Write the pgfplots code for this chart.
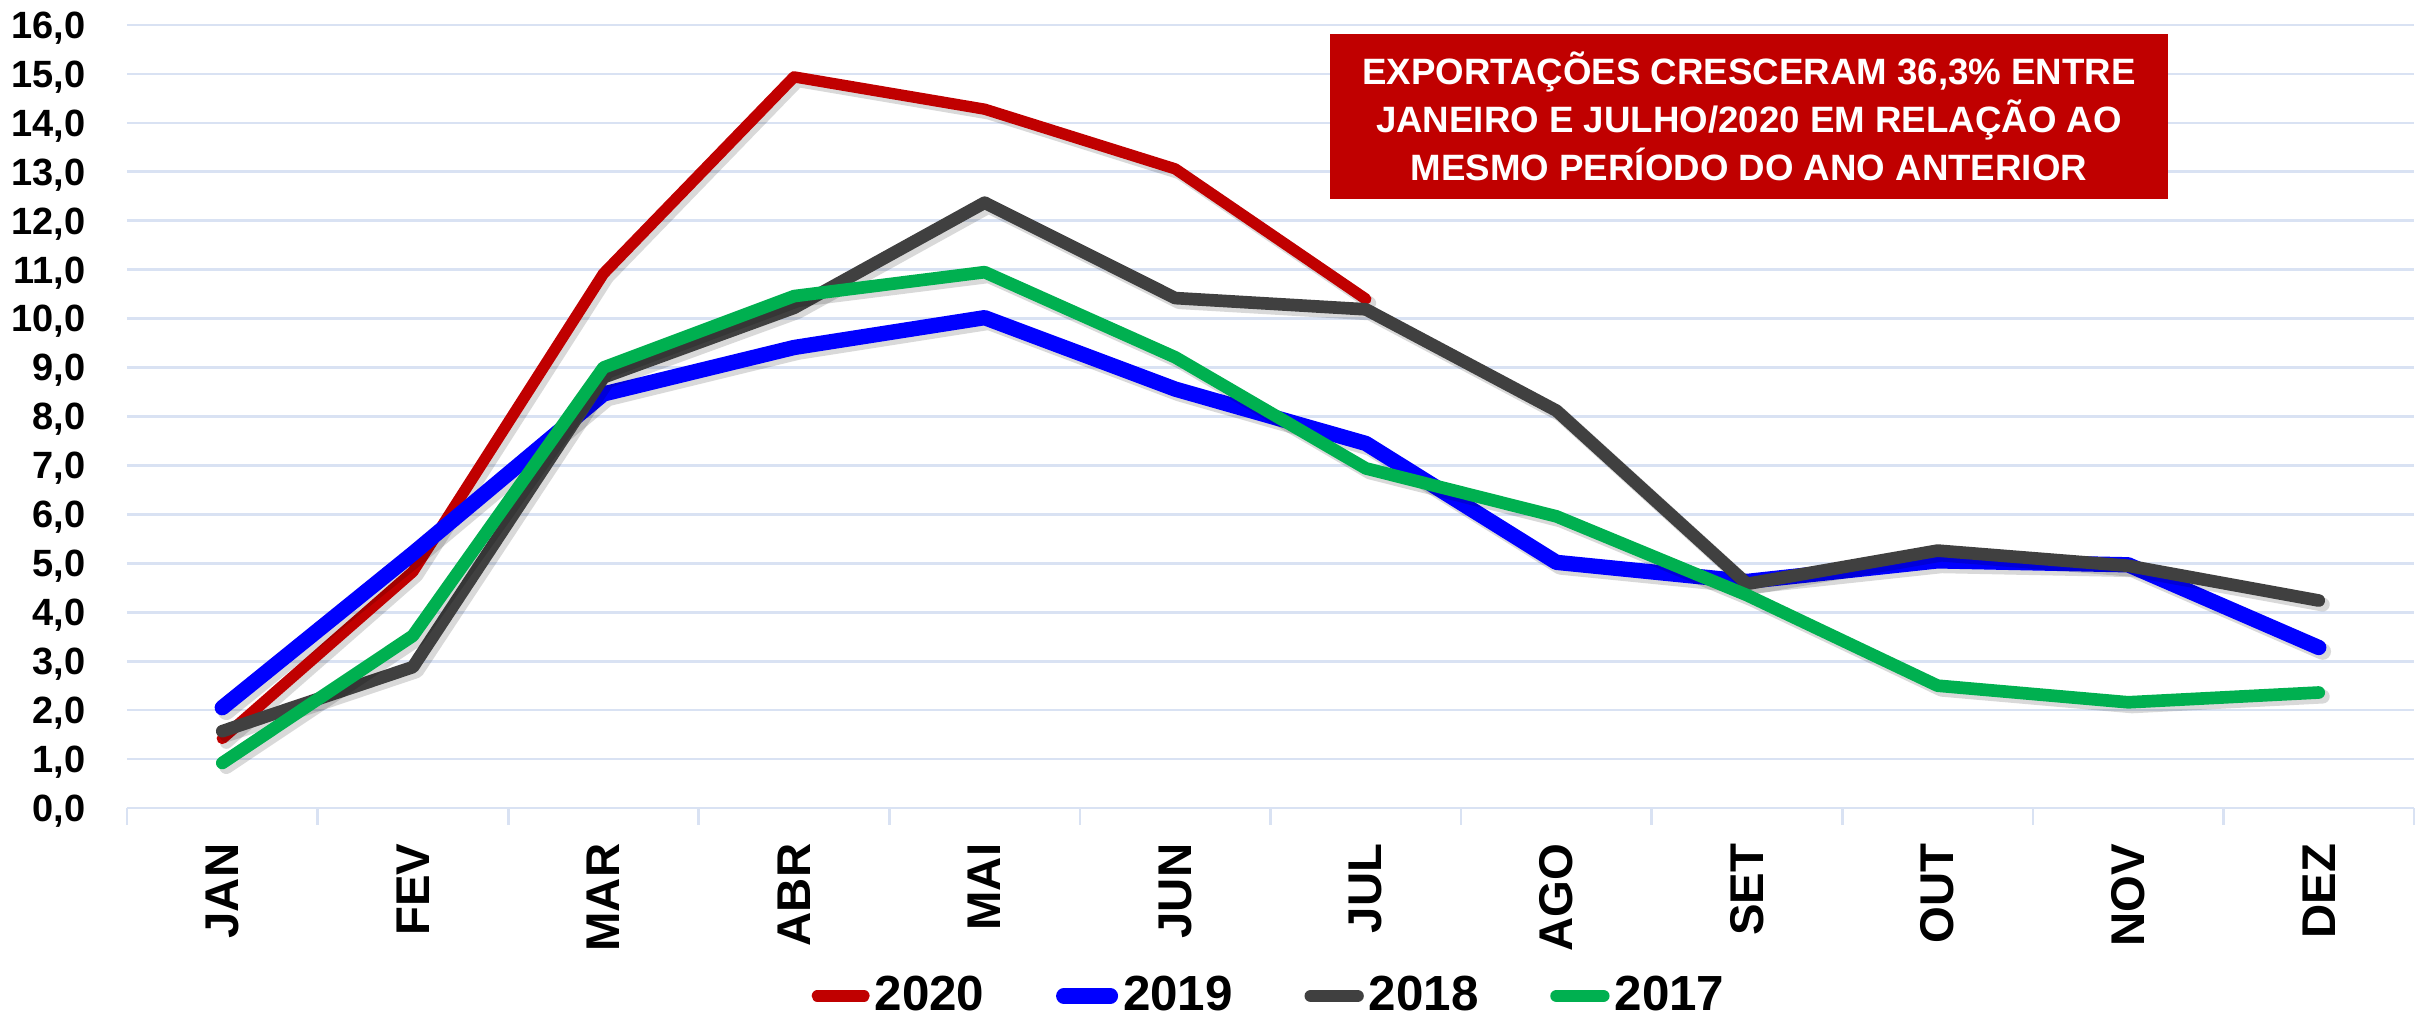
\documentclass[border=0pt]{standalone}
\usepackage{fontspec}
\setmainfont{Liberation Sans}
\usepackage{pgfplots}
\pgfplotsset{compat=1.18}
\definecolor{c2020}{HTML}{C00000}
\definecolor{c2019}{HTML}{0000FF}
\definecolor{c2018}{HTML}{404040}
\definecolor{c2017}{HTML}{00B050}
\definecolor{gridc}{HTML}{D9E2F3}
\begin{document}
\begin{tikzpicture}
\begin{axis}[
  scale only axis, width=686.1pt, height=234.9pt,
  xmin=0.5, xmax=12.5, ymin=0, ymax=16,
  axis x line*=bottom, axis y line*=left,
  y axis line style={draw=none},
  x axis line style={-, draw=gridc, line width=0.8pt},
  xtick={1,...,12},
  xticklabels={JAN,FEV,MAR,ABR,MAI,JUN,JUL,AGO,SET,OUT,NOV,DEZ},
  minor xtick={0.5,1.5,...,12.5},
  ytick={0,1,...,16},
  major tick length=0pt, minor tick length=5.1pt, tick align=outside,
  minor tick style={draw=gridc, line width=0.8pt},
  ymajorgrids, major grid style={draw=gridc, line width=0.8pt},
  xticklabel style={rotate=90, anchor=east, inner sep=0pt, font=\fontsize{14.2}{14.2}\selectfont\bfseries},
  xticklabel shift=10.5pt,
  yticklabel style={anchor=base east, inner sep=0pt, xshift=-12.3pt, yshift=-4pt, font=\fontsize{11.4}{11.4}\selectfont\bfseries},
  /pgf/number format/.cd, fixed, fixed zerofill, precision=1, use comma, assume math mode=true,
  /pgfplots/.cd,
  legend columns=4,
  legend style={at={(0.5,-0.240)}, anchor=center, draw=none, fill=none, inner sep=0pt,
    font=\fontsize{14.8}{14.8}\selectfont\bfseries,
    nodes={inner sep=1.5pt},
    /tikz/every even column/.append style={column sep=20pt}},
  legend image code/.code={\draw[#1, line cap=round] (0pt,0pt) -- (14pt,0pt);},
  every axis plot/.append style={line cap=round, line join=round},
]
% 2020
\addplot[draw=black, opacity=0.15, line width=3.8pt, xshift=1.2pt, yshift=-1.2pt, forget plot]
  coordinates {(1,1.42) (2,4.83) (3,10.92) (4,14.94) (5,14.28) (6,13.06) (7,10.40)};
\addplot[c2020, line width=3.4pt]
  coordinates {(1,1.42) (2,4.83) (3,10.92) (4,14.94) (5,14.28) (6,13.06) (7,10.40)};
\addlegendentry{2020}
% 2019
\addplot[draw=black, opacity=0.15, line width=5pt, xshift=1.2pt, yshift=-1.2pt, forget plot]
  coordinates {(1,2.05) (2,5.20) (3,8.46) (4,9.41) (5,10.02) (6,8.56) (7,7.45) (8,5.02) (9,4.63) (10,5.05) (11,4.97) (12,3.28)};
\addplot[c2019, line width=4.6pt]
  coordinates {(1,2.05) (2,5.20) (3,8.46) (4,9.41) (5,10.02) (6,8.56) (7,7.45) (8,5.02) (9,4.63) (10,5.05) (11,4.97) (12,3.28)};
\addlegendentry{2019}
% 2018
\addplot[draw=black, opacity=0.15, line width=4.2pt, xshift=1.2pt, yshift=-1.2pt, forget plot]
  coordinates {(1,1.57) (2,2.88) (3,8.80) (4,10.22) (5,12.37) (6,10.42) (7,10.19) (8,8.12) (9,4.58) (10,5.26) (11,4.95) (12,4.24)};
\addplot[c2018, line width=3.8pt]
  coordinates {(1,1.57) (2,2.88) (3,8.80) (4,10.22) (5,12.37) (6,10.42) (7,10.19) (8,8.12) (9,4.58) (10,5.26) (11,4.95) (12,4.24)};
\addlegendentry{2018}
% 2017
\addplot[draw=black, opacity=0.15, line width=4.2pt, xshift=1.2pt, yshift=-1.2pt, forget plot]
  coordinates {(1,0.92) (2,3.52) (3,9.00) (4,10.46) (5,10.95) (6,9.21) (7,6.94) (8,5.96) (9,4.35) (10,2.50) (11,2.16) (12,2.36)};
\addplot[c2017, line width=3.8pt]
  coordinates {(1,0.92) (2,3.52) (3,9.00) (4,10.46) (5,10.95) (6,9.21) (7,6.94) (8,5.96) (9,4.35) (10,2.50) (11,2.16) (12,2.36)};
\addlegendentry{2017}
\node[fill=c2020, text=white, minimum width=251.4pt, minimum height=49.5pt, inner sep=0pt,
  align=center, font=\fontsize{11}{14.4}\selectfont\bfseries]
  at (rel axis cs:0.7092,0.8831)
  {EXPORTAÇÕES CRESCERAM 36,3\% ENTRE\\JANEIRO E JULHO/2020 EM RELAÇÃO AO\\MESMO PERÍODO DO ANO ANTERIOR};
\end{axis}
\pgfresetboundingbox
\path (-38.1pt,-63.3pt) rectangle (691.8pt,242.4pt);
\end{tikzpicture}
\end{document}
